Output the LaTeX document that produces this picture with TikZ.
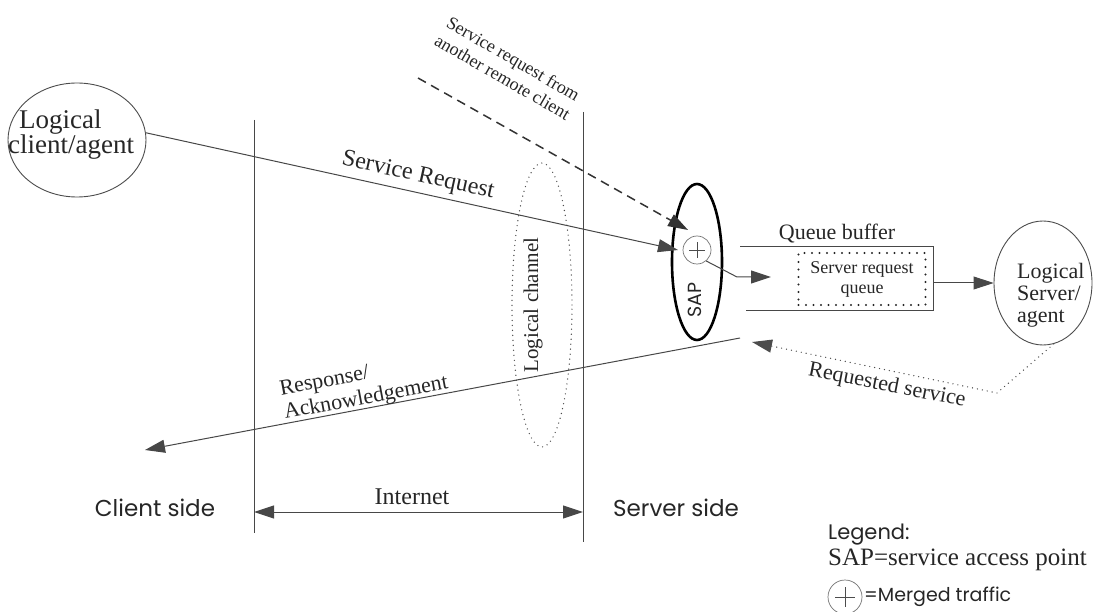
\documentclass[tikz,border=0pt]{standalone}
\usepackage{fontspec}
\setmainfont{Liberation Serif}
\newfontfamily\geofont{Poppins}
\usetikzlibrary{shapes.geometric,arrows.meta}

\begin{document}
\begin{tikzpicture}[x=1pt,y=-1pt,
  ln/.style={draw=black!72, line width=1pt},
  thick ln/.style={draw=black, line width=2.6pt},
  tip/.style={-{Triangle[length=20pt,width=13pt]}},
  both tips/.style={{Triangle[length=20pt,width=13pt]}-{Triangle[length=20pt,width=13pt]}},
  fine dots/.style={draw=black!70, line width=1.4pt, line cap=round, dash pattern=on 0pt off 5pt},
  coarse dots/.style={draw=black!85, line width=2.2pt, line cap=round, dash pattern=on 0pt off 7.5pt},
  remote/.style={draw=black!80, line width=1.5pt, dash pattern=on 9pt off 6pt},
  oval/.style={ellipse, draw=black!70, line width=0.9pt, inner sep=0pt},
  label/.style={text=black!85, inner sep=0pt},
  merge/.style={circle, draw=black!55, line width=0.7pt, minimum size=#1, inner sep=0pt,
    path picture={
      \draw[black!70, line width=0.9pt]
        ([xshift=-0.28*#1]path picture bounding box.center) -- ([xshift=0.28*#1]path picture bounding box.center)
        ([yshift=-0.28*#1]path picture bounding box.center) -- ([yshift=0.28*#1]path picture bounding box.center);
    }},
]
\useasboundingbox (0,0) rectangle (1108,612);

% client / server separators
\coordinate (cl-top) at (254,120);
\coordinate (cl-bot) at (254,533);
\coordinate (sv-top) at (583,112);
\coordinate (sv-bot) at (583,542);
\draw[ln] (cl-top) -- (cl-bot);
\draw[ln] (sv-top) -- (sv-bot);

% Internet span
\coordinate (net-l) at (254,512);
\coordinate (net-r) at (583,512);
\draw[ln, both tips] (net-l) -- (net-r);
\node[label, font=\fontsize{24}{26}\selectfont] (inet) at (412,497) {Internet};

% side captions
\node[label, font=\geofont\fontsize{23}{25}\selectfont] (clside) at (155,508) {Client side};
\node[label, font=\geofont\fontsize{23}{25}\selectfont] (svside) at (676,508) {Server side};

% logical client
\node[oval, minimum width=138pt, minimum height=114pt] (client) at (77,140) {};
\node[label, align=left, anchor=west, font=\fontsize{27}{25}\selectfont] (clienttxt) at (8,135)
  {\hspace*{11pt}Logical\\client/agent};

% logical channel
\node[ellipse, fine dots, minimum width=60pt, minimum height=284pt, inner sep=0pt] (chan) at (542,305) {};
\node[label, rotate=90, font=\fontsize{21}{23}\selectfont] (chantxt) at (533,305) {Logical channel};

% service access point with merge point
\node[ellipse, thick ln, minimum width=50pt, minimum height=156pt, inner sep=0pt] (sap) at (697,262) {};
\node[label, rotate=90, font=\geofont\fontsize{19}{21}\selectfont] (saptxt) at (695,300) {SAP};
\node[merge=28pt] (mix) at (697,250) {};

% service request from the client
\coordinate (sr-tip) at (678,250);
\draw[ln, tip] (client.6) -- (sr-tip);
\node[label, rotate=-12.4, font=\fontsize{24}{26}\selectfont] (srtxt) at (418,176) {Service Request};

% request from another remote client
\coordinate (rem) at (418,78);
\coordinate (rem-tip) at (688,230);
\draw[remote, tip] (rem) -- (rem-tip);
\node[label, rotate=-30, align=center, font=\fontsize{18}{21.5}\selectfont] (remtxt) at (508,68)
  {Service request from\\another remote client};

% queue buffer
\coordinate (qb-tl) at (740,247);
\coordinate (qb-tr) at (933,247);
\coordinate (qb-br) at (933,310);
\coordinate (qb-bl) at (746,310);
\draw[ln] (qb-tl) -- (qb-tr) -- (qb-br) -- (qb-bl);
\node[label, font=\fontsize{22}{24}\selectfont] (qbtxt) at (837,234) {Queue buffer};
\node[coarse dots, minimum width=127pt, minimum height=52pt, align=center, text=black!85,
  inner sep=0pt, font=\fontsize{18}{20}\selectfont] (srq) at (862,279) {Server request\\queue};

% merged traffic into the queue
\coordinate (bend) at (737,277);
\coordinate (q-in) at (771,277);
\draw[ln, tip] (mix.-50) -- (bend) -- (q-in);

% logical server
\node[oval, minimum width=98pt, minimum height=124pt] (server) at (1043,283) {};
\node[label, align=left, anchor=west, font=\fontsize{22}{22}\selectfont] (servertxt) at (1017,295)
  {Logical\\Server/\\agent};
\coordinate (q-out) at (933,283);
\draw[ln, tip] (q-out) -- (server.west);

% requested service back to the queue side
\coordinate (rs-knee) at (997,393);
\coordinate (rs-tip) at (752,342);
\draw[fine dots, tip] (server.-80) -- (rs-knee) -- (rs-tip);
\node[label, rotate=-11, font=\fontsize{22}{24}\selectfont] (rstxt) at (887,386) {Requested service};

% response back to the client
\coordinate (resp-start) at (740,338);
\coordinate (resp-tip) at (145,450);
\draw[ln, tip] (resp-start) -- (resp-tip);
\node[label, rotate=10.6, align=left, font=\fontsize{22}{24}\selectfont] (resptxt) at (364,387)
  {Response/\\Acknowledgement};

% legend
\node[label, anchor=west, font=\geofont\fontsize{21}{23}\selectfont] (leg) at (828,535) {Legend:};
\node[label, anchor=west, font=\fontsize{25}{27}\selectfont] (legsap) at (828,560) {SAP=service access point};
\node[merge=34pt] (legmix) at (845,597) {};
\node[label, anchor=west, font=\geofont\fontsize{19}{21}\selectfont] (legmixtxt) at (864,597) {=Merged traffic};

\end{tikzpicture}
\end{document}
